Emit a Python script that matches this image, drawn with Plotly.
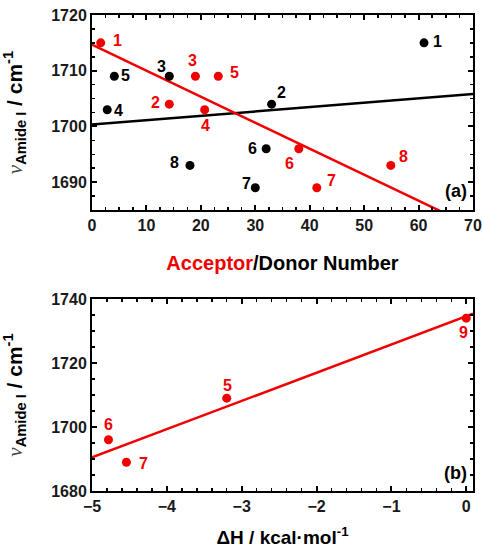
import numpy as np
import plotly.graph_objects as go
from plotly.subplots import make_subplots

# ---------------- data ----------------
# panel (a): amide I frequency vs donor number (black) and acceptor number (red)
donor_labels = ["1", "2", "3", "4", "5", "6", "7", "8"]
donor_number = [61.0, 33.0, 14.2, 2.8, 4.1, 32.0, 30.0, 18.0]
donor_freq = [1715, 1704, 1709, 1703, 1709, 1696, 1689, 1693]

acceptor_labels = ["1", "2", "3", "4", "5", "6", "7", "8"]
acceptor_number = [1.6, 14.2, 19.0, 20.7, 23.2, 38.0, 41.3, 54.9]
acceptor_freq = [1715, 1704, 1709, 1703, 1709, 1696, 1689, 1693]

# panel (b): amide I frequency vs enthalpy
dh_labels = ["6", "7", "5", "9"]
dh_values = [-4.78, -4.54, -3.20, 0.0]
dh_freq = [1696, 1689, 1709, 1734]

# ---------------- styles ----------------
RED = "#f00000"
BLACK = "#000000"
TXT = "#1a1a1a"
FONT = "Liberation Sans"

# label offsets (pixels) for point annotations: (xshift, yshift)
donor_off = [(13, 1), (10, 12), (-8, 10), (11, -1), (11, 1), (-14, 0), (-9, 4), (-15, 3)]
acceptor_off = [(17, 2), (-14, 2), (-3, 16), (1, -16), (16, 4), (-9, -15), (15, 7), (13, 9)]
dh_off = [(0, 15), (17, -1), (1, 13), (-3, -14)]

fig = make_subplots(rows=2, cols=1, vertical_spacing=0.0)

# fits
def fit_line(x, y, x0, x1):
    s, b = np.polyfit(x, y, 1)
    xs = np.array([x0, x1])
    return xs, s * xs + b

xs, ys = fit_line(donor_number, donor_freq, 0, 70)
fig.add_trace(go.Scatter(x=xs, y=ys, mode="lines", line=dict(color=BLACK, width=2.5),
                         showlegend=False, hoverinfo="skip"), row=1, col=1)
xs, ys = fit_line(acceptor_number, acceptor_freq, 0, 70)
fig.add_trace(go.Scatter(x=xs, y=ys, mode="lines", line=dict(color=RED, width=2.5),
                         showlegend=False, hoverinfo="skip"), row=1, col=1)
xs, ys = fit_line(dh_values, dh_freq, -5, 0.09)
fig.add_trace(go.Scatter(x=xs, y=ys, mode="lines", line=dict(color=RED, width=2.5),
                         showlegend=False, hoverinfo="skip"), row=2, col=1)

# points
fig.add_trace(go.Scatter(x=donor_number, y=donor_freq, mode="markers",
                         marker=dict(color=BLACK, size=9), showlegend=False), row=1, col=1)
fig.add_trace(go.Scatter(x=acceptor_number, y=acceptor_freq, mode="markers",
                         marker=dict(color=RED, size=9), showlegend=False), row=1, col=1)
fig.add_trace(go.Scatter(x=dh_values, y=dh_freq, mode="markers", cliponaxis=False,
                         marker=dict(color=RED, size=9), showlegend=False), row=2, col=1)

annots = []
def add_labels(labels, xv, yv, offs, color, xref, yref):
    for lab, x, y, (dx, dy) in zip(labels, xv, yv, offs):
        annots.append(dict(x=x, y=y, xref=xref, yref=yref, text=lab, showarrow=False,
                           xshift=dx, yshift=dy,
                           font=dict(family=FONT, size=16, color=color, weight="bold")))

add_labels(donor_labels, donor_number, donor_freq, donor_off, BLACK, "x", "y")
add_labels(acceptor_labels, acceptor_number, acceptor_freq, acceptor_off, RED, "x", "y")
add_labels(dh_labels, dh_values, dh_freq, dh_off, RED, "x2", "y2")

annots.append(dict(x=1, y=0, xref="x domain", yref="y domain", text="(a)", showarrow=False,
                   xanchor="right", yanchor="bottom", xshift=-4, yshift=7,
                   font=dict(family=FONT, size=18, color=BLACK, weight="bold")))
annots.append(dict(x=1, y=0, xref="x2 domain", yref="y2 domain", text="(b)", showarrow=False,
                   xanchor="right", yanchor="bottom", xshift=-4, yshift=6,
                   font=dict(family=FONT, size=18, color=BLACK, weight="bold")))

fig.update_layout(annotations=annots)

ytitle = ("<span style=\"font-family:'Liberation Serif';font-style:italic;font-weight:normal;fill:#444\">ν</span>"
          "<sub>Amide I</sub> / cm<sup>-1</sup>")

axis_common = dict(showline=True, linewidth=2, linecolor=BLACK, mirror="allticks",
                   ticks="inside", ticklen=5, tickwidth=2, tickcolor=BLACK,
                   showgrid=False, zeroline=False, automargin=False,
                   ticklabeloverflow="allow",
                   tickfont=dict(family=FONT, size=16, color=TXT, weight="bold"))

fig.update_xaxes(**axis_common)
fig.update_yaxes(**axis_common)

fig.update_xaxes(range=[0, 70], dtick=10, tick0=0,
                 minor=dict(dtick=2.5, ticks="inside", ticklen=3, tickwidth=1.5, tickcolor=BLACK),
                 title=dict(text="<span style='fill:" + RED + "'>Acceptor</span>/Donor Number",
                            font=dict(family=FONT, size=20, color=BLACK, weight="bold"), standoff=23),
                 row=1, col=1)
fig.update_yaxes(range=[1685, 1720], dtick=10, tick0=1690,
                 minor=dict(dtick=2.5, ticks="inside", ticklen=3, tickwidth=1.5, tickcolor=BLACK),
                 title=dict(text=ytitle, font=dict(family=FONT, size=21, color=BLACK, weight="bold"),
                            standoff=23),
                 row=1, col=1)
fig.update_xaxes(range=[-5, 0.09], dtick=1, tick0=0,
                 minor=dict(dtick=0.2, ticks="inside", ticklen=3, tickwidth=1.5, tickcolor=BLACK),
                 title=dict(text="ΔH / kcal·mol<sup>-1</sup>",
                            font=dict(family=FONT, size=19, color=BLACK, weight="bold"), standoff=16),
                 row=2, col=1)
fig.update_yaxes(range=[1680, 1740], dtick=20, tick0=1680,
                 minor=dict(dtick=5, ticks="inside", ticklen=3, tickwidth=1.5, tickcolor=BLACK),
                 title=dict(text=ytitle, font=dict(family=FONT, size=21, color=BLACK, weight="bold"),
                            standoff=23),
                 row=2, col=1)

fig.update_layout(
    width=483, height=550,
    margin=dict(l=92, r=10, t=15, b=59, autoexpand=False),
    paper_bgcolor="white", plot_bgcolor="white",
    font=dict(family=FONT, color=TXT),
)
fig.layout.yaxis.domain = [0.5903, 1.0]
fig.layout.yaxis2.domain = [0.0, 0.4034]

# remove the default 8px page margin so the figure fills the window exactly
fig.write_html("out.html",
               config={"displayModeBar": False, "staticPlot": True},
               post_script="document.body.style.margin='0';document.body.style.overflow='hidden';")
